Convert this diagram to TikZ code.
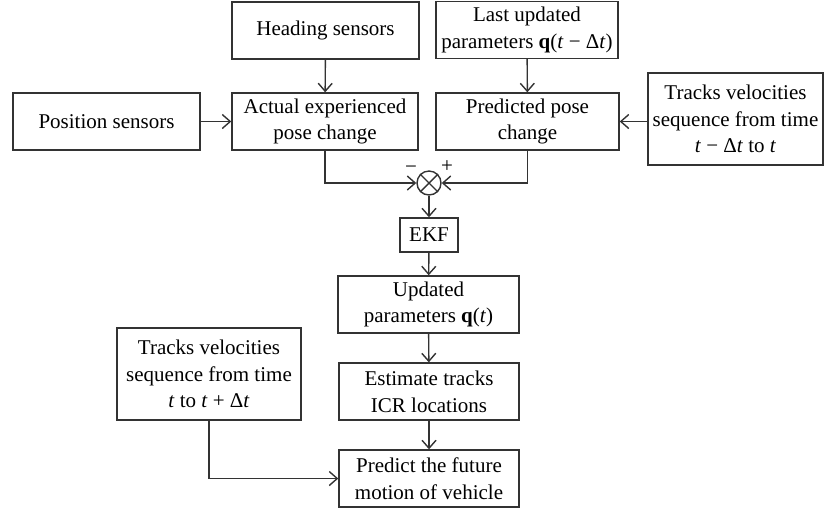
\documentclass[tikz,border=0pt]{standalone}
\usepackage{fontspec}
\setmainfont{Liberation Serif}
\usetikzlibrary{arrows.meta}

\begin{document}
\begin{tikzpicture}[x=0.5pt, y=-0.5pt, line width=0.7pt, draw=black!80,
   font=\fontsize{10.5}{13.3}\selectfont,
   >={Straight Barb[length=4pt,width=7pt]},
   block/.style={draw, align=center, inner sep=0pt, minimum height=28.5pt},
   tall/.style={minimum height=46pt},
   junction/.style={draw, circle, minimum size=12pt, inner sep=0pt}]
   \useasboundingbox (0,0) rectangle (824,511);
   \node (head) at (325.5,30.5) [block, minimum width=93.5pt] {Heading sensors};
   \node (pos) at (106.5,121.5) [block, minimum width=93.5pt] {Position sensors};
   \node (act) at (325,121.5) [block, minimum width=93pt] {Actual experienced\\pose change};
   \node (last) at (527,30) [block, minimum width=91pt] {Last updated\\parameters \textbf{q}(\textit{t} − Δ\textit{t})};
   \node (pred) at (527.5,121.5) [block, minimum width=91.5pt] {Predicted pose\\change};
   \node (trkA) at (735.5,119) [block, tall, minimum width=87.5pt] {Tracks velocities\\sequence from time\\\textit{t} − Δ\textit{t} to \textit{t}};
   \node (sum) at (429,183) [junction] {};
   \draw (sum.north west) -- (sum.south east);
   \draw (sum.south west) -- (sum.north east);
   \node (minus) at (411,170) {−};
   \node (plus) at (447,167) {+};
   \node (ekf) at (429,235) [block, minimum width=29pt, minimum height=17pt] {EKF};
   \node (upd) at (428.5,304.5) [block, minimum width=90.5pt] {Updated\\parameters \textbf{q}(\textit{t})};
   \node (est) at (429,391.5) [block, minimum width=90pt] {Estimate tracks\\ICR locations};
   \node (fut) at (429,478.5) [block, minimum width=90pt] {Predict the future\\motion of vehicle};
   \node (trkB) at (209,374) [block, tall, minimum width=92pt] {Tracks velocities\\sequence from time\\\textit{t} to \textit{t} + Δ\textit{t}};
   \draw (head)[->] -- (act);
   \draw (pos)[->] -- (act);
   \draw (last)[->] -- (pred);
   \draw (trkA.west |- pred)[->] -- (pred);
   \draw (act)[->] |- (sum);
   \draw (pred)[->] |- (sum);
   \draw (sum)[->] -- (ekf);
   \draw (ekf)[->] -- (upd);
   \draw (upd)[->] -- (est);
   \draw (est)[->] -- (fut);
   \draw (trkB)[->] |- (fut);
\end{tikzpicture}
\end{document}
